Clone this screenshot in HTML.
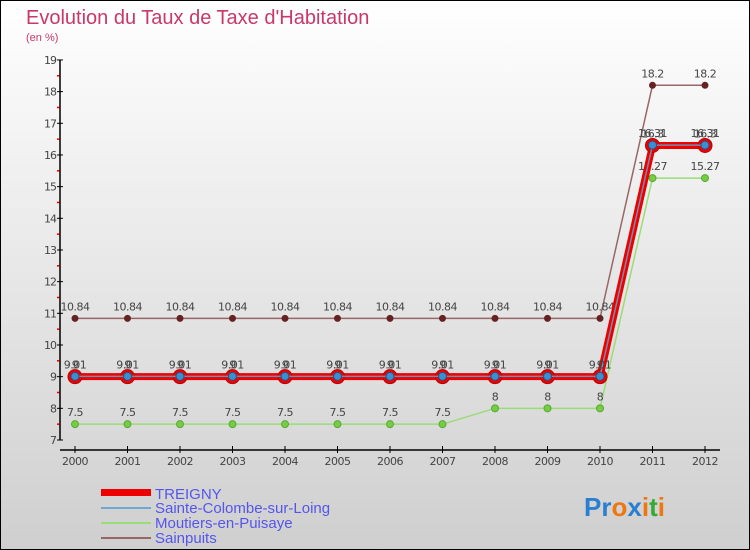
<!DOCTYPE html>
<html><head><meta charset="utf-8"><style>
html,body{margin:0;padding:0;width:750px;height:550px;overflow:hidden}
svg{display:block;font-family:"DejaVu Sans","Liberation Sans",sans-serif}
</style></head><body>
<svg width="750" height="550" viewBox="0 0 750 550">
<defs><linearGradient id="bg" x1="0" y1="0" x2="0" y2="1"><stop offset="0" stop-color="#ffffff"/><stop offset="1" stop-color="#cfcfcf"/></linearGradient></defs>
<rect x="0.5" y="0.5" width="749" height="549" fill="url(#bg)" stroke="#000"/>
<text x="26" y="24" font-size="20" fill="#c8386a" font-family="Liberation Sans, sans-serif">Evolution du Taux de Taxe d'Habitation</text>
<text x="26" y="41" font-size="11" fill="#c8386a" font-family="Liberation Sans, sans-serif">(en %)</text>
<g id="axes"></g>
<g id="series"></g>
<g font-size="15" fill="#5555ee" font-family="Liberation Sans, sans-serif">
<rect x="101" y="489" width="50" height="7" fill="#ee0000"/>
<text x="155" y="499">TREIGNY</text>
<rect x="101" y="507" width="50" height="2" fill="#6fa8d0"/>
<text x="155" y="513">Sainte-Colombe-sur-Loing</text>
<rect x="101" y="522" width="50" height="2" fill="#99dd77"/>
<text x="155" y="528">Moutiers-en-Puisaye</text>
<rect x="101" y="537" width="50" height="2" fill="#996666"/>
<text x="155" y="543">Sainpuits</text>
</g>
<g font-size="26" font-weight="bold" font-family="Liberation Sans, sans-serif">
<text x="584" y="516"><tspan fill="#2a7fd0">Pr</tspan><tspan fill="#ee7711">o</tspan><tspan fill="#2a7fd0">x</tspan><tspan fill="#ee7711">i</tspan><tspan fill="#33aa33">t</tspan><tspan fill="#ee7711">i</tspan></text>
</g>
</svg>
<script>
const years=[2000,2001,2002,2003,2004,2005,2006,2007,2008,2009,2010,2011,2012];
const yTicks=[7,8,9,10,11,12,13,14,15,16,17,18,19];
const treigny=[9,9,9,9,9,9,9,9,9,9,9,16.3,16.3];
const sainteColombe=[9.01,9.01,9.01,9.01,9.01,9.01,9.01,9.01,9.01,9.01,9.01,16.31,16.31];
const moutiers=[7.5,7.5,7.5,7.5,7.5,7.5,7.5,7.5,8,8,8,15.27,15.27];
const sainpuits=[10.84,10.84,10.84,10.84,10.84,10.84,10.84,10.84,10.84,10.84,10.84,18.2,18.2];
const NS='http://www.w3.org/2000/svg';
const X=i=>75+i*52.5, Y=v=>440-(v-7)*31.67;
function el(t,a,p){const e=document.createElementNS(NS,t);for(const k in a)e.setAttribute(k,a[k]);p.appendChild(e);return e;}
const ax=document.getElementById('axes'), sg=document.getElementById('series');
let l=el('line',{x1:60,y1:Y(19),x2:60,y2:440,stroke:'#000','stroke-width':1.5},ax);

l=el('line',{x1:60,y1:450,x2:720,y2:450,stroke:'#000','stroke-width':1.5},ax);

yTicks.forEach(v=>{
 el('line',{x1:57,y1:Y(v),x2:63,y2:Y(v),stroke:'#000'},ax);
 if(v<19)el('line',{x1:57,y1:Y(v+0.5),x2:59.5,y2:Y(v+0.5),stroke:'#ee0000','stroke-width':1.5},ax);
 const t=el('text',{x:56,y:Y(v)+4,'font-size':11,fill:'#444','text-anchor':'end','letter-spacing':'-1'},ax);
 t.textContent=v;
 
});
years.forEach((y,i)=>{
 el('line',{x1:X(i),y1:446,x2:X(i),y2:453,stroke:'#000'},ax);
 const t=el('text',{x:X(i),y:465,'font-size':11,fill:'#444','text-anchor':'middle','letter-spacing':'-0.5'},ax);
 t.textContent=y;
 
});
function series(vals,name,color,w,dot,dotStroke,r,rs){
 const g=el('g',{},sg);
 
 const p=el('polyline',{points:vals.map((v,i)=>X(i)+','+Y(v)).join(' '),fill:'none',stroke:color,'stroke-width':w,'stroke-linejoin':'round'},g);
 
 vals.forEach((v,i)=>{
  const c=el('circle',{cx:X(i),cy:Y(v),r:r,fill:dot,stroke:dotStroke,'stroke-width':rs},g);
  
  const t=el('text',{x:X(i),y:Y(v)-8,'font-size':11,fill:'#444','text-anchor':'middle','letter-spacing':'-0.5'},g);
  t.textContent=v;
  
 });
}
series(sainpuits,'sainpuits','#996666',1.5,'#662222','#662222',3.5,0);
series(moutiers,'moutiers','#99dd77',1.5,'#77cc44','#55aa33',3.5,1);
series(treigny,'treigny','#ee0000',7,'#ee0000','#bb0000',7,1);
series(sainteColombe,'sainte-colombe','#6f8fb0',1.5,'#3a8fd0','#225588',4,1);
</script>
</body></html>
